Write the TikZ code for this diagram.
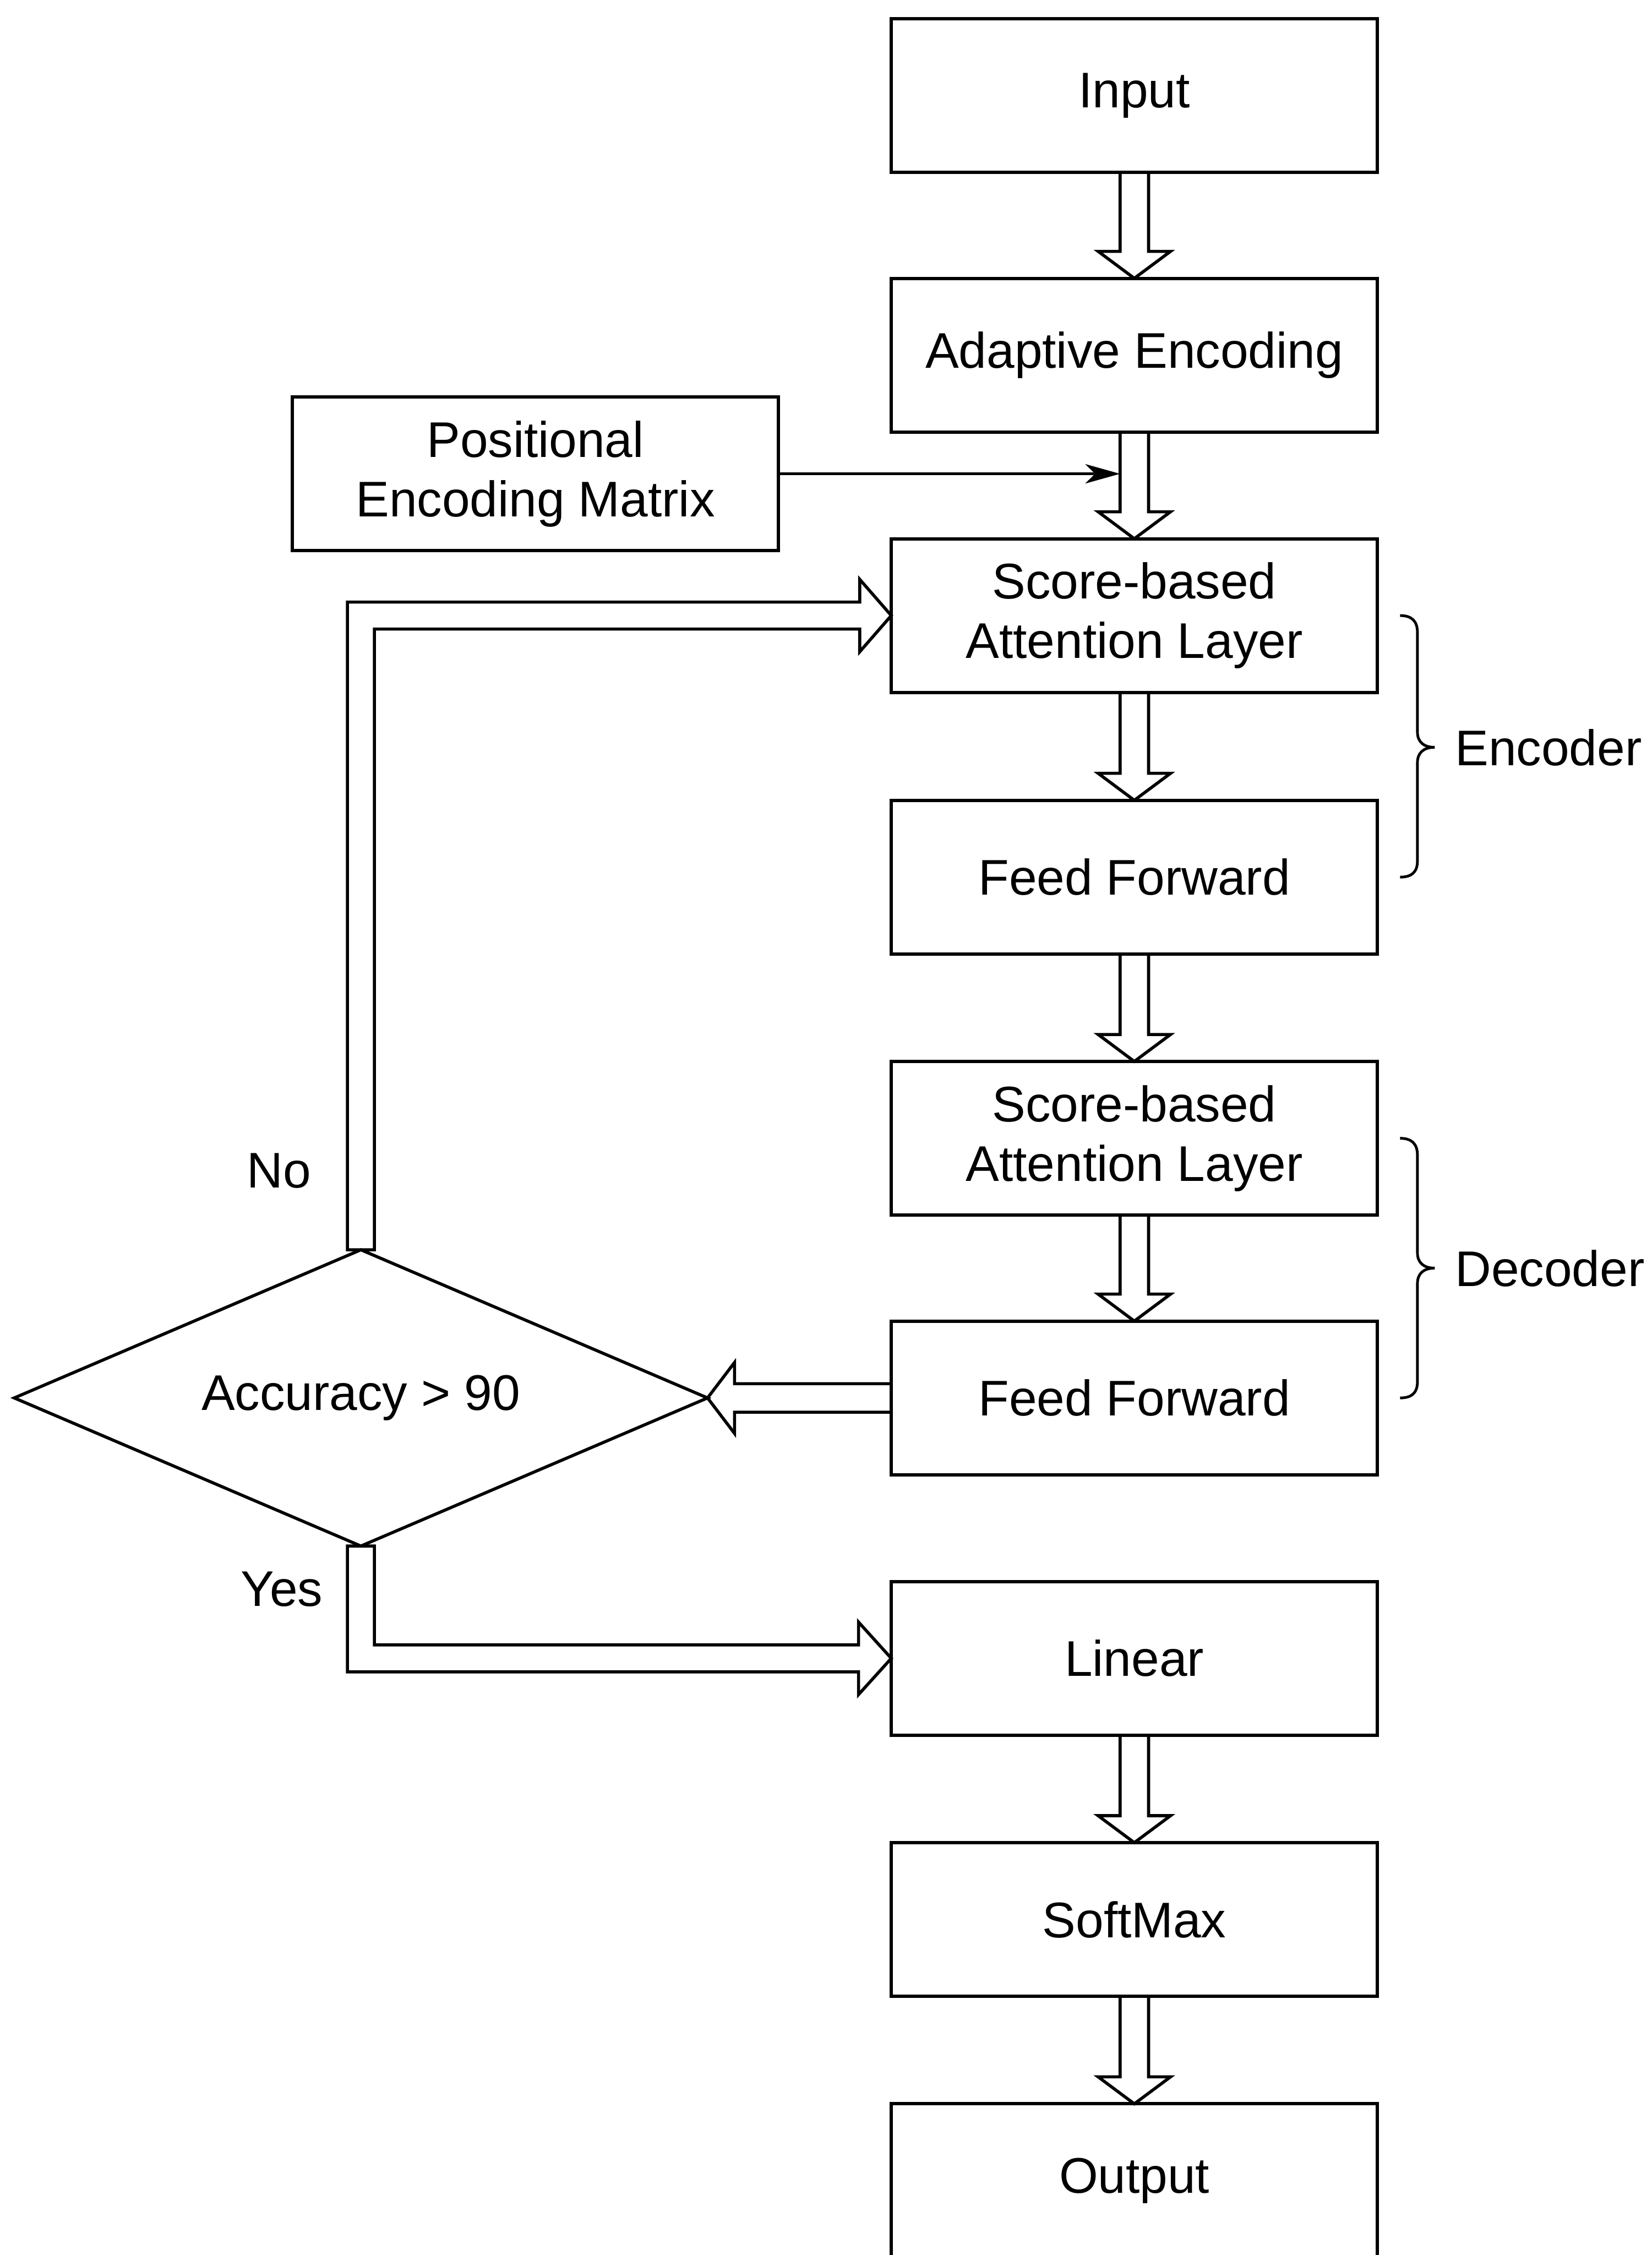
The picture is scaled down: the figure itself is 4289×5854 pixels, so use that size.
\documentclass[tikz,border=0pt]{standalone}
\usepackage{fontspec}
\setmainfont{Liberation Sans}
\usetikzlibrary{shapes.geometric,calc,arrows.meta}

% hollow block arrow pointing down from node #1 to node #2
\newcommand\blockdown[2]{%
  \draw[blockarrow] ($(#1.south)+(-37,0)$) -- ($(#2.north)+(-37,-70)$)
    -- ($(#2.north)+(-94,-70)$) -- (#2.north) -- ($(#2.north)+(94,-70)$)
    -- ($(#2.north)+(37,-70)$) -- ($(#1.south)+(37,0)$);}

\begin{document}
\begin{tikzpicture}[x=0.1mm,y=-0.1mm,
  every node/.style={font=\fontsize{37}{44}\selectfont},
  box/.style={draw,line width=0.85mm,minimum width=126.2mm,minimum height=39.9mm,
    inner sep=0pt,outer sep=0pt,align=center},
  decision/.style={draw,shape=diamond,aspect=2.34,line width=0.8mm,minimum width=180mm,
    minimum height=76.9mm,inner sep=0pt,outer sep=0pt},
  blockarrow/.style={draw,line width=0.8mm,line join=miter},
  thinarrow/.style={line width=0.8mm,-{Stealth[length=9mm,width=5mm,inset=2.5mm]}},
  bracepath/.style={line width=0.7mm},
  plainlabel/.style={inner sep=0pt,outer sep=0pt}]

\useasboundingbox (0,0) rectangle (4289,5854);
\clip (0,0) rectangle (4289,5854);

% main column
\node[box] (inp)   at (2945,248)  {Input};
\node[box] (adapt) at (2945,922)  {Adaptive Encoding};
\node[box] (sal1)  at (2945,1598) {Score-based\\Attention Layer};
\node[box] (ff1)   at (2945,2277) {Feed Forward};
\node[box] (sal2)  at (2945,2955) {Score-based\\Attention Layer};
\node[box] (ff2)   at (2945,3629) {Feed Forward};
\node[box] (lin)   at (2945,4305) {Linear};
\node[box] (soft)  at (2945,4983) {SoftMax};
\node[box] (outp)  at (2945,5661) {Output};

% side inputs
\node[box] (pos) at (1390,1230) {Positional\\Encoding Matrix};
\node[decision] (acc) at (937,3629) {Accuracy > 90};

% vertical block arrows
\blockdown{inp}{adapt}
\blockdown{adapt}{sal1}
\blockdown{sal1}{ff1}
\blockdown{ff1}{sal2}
\blockdown{sal2}{ff2}
\blockdown{lin}{soft}
\blockdown{soft}{outp}

% positional encoding joins the shaft into the attention layer
\coordinate (shaftL) at ($(adapt.south)+(-37,0)$);
\draw[thinarrow] (pos.east) -- (pos.east -| shaftL);

% feed forward output into the decision
\draw[blockarrow] ($(ff2.west)+(0,-37)$) -- ($(acc.east)+(70,-37)$)
  -- ($(acc.east)+(70,-92)$) -- (acc.east) -- ($(acc.east)+(70,92)$)
  -- ($(acc.east)+(70,37)$) -- ($(ff2.west)+(0,37)$);

% "No" branch back to the encoder attention layer
\coordinate (nocorner) at (acc.north |- sal1.west);
\draw[blockarrow] ($(acc.north)+(-35,0)$) -- ($(nocorner)+(-35,-35)$)
  -- ($(sal1.west)+(-82,-35)$) -- ($(sal1.west)+(-82,-94)$) -- (sal1.west)
  -- ($(sal1.west)+(-82,94)$) -- ($(sal1.west)+(-82,35)$)
  -- ($(nocorner)+(35,35)$) -- ($(acc.north)+(35,0)$) -- cycle;

% "Yes" branch on to the linear layer
\coordinate (yescorner) at (acc.south |- lin.west);
\draw[blockarrow] ($(acc.south)+(-35,0)$) -- ($(yescorner)+(-35,35)$)
  -- ($(lin.west)+(-85,35)$) -- ($(lin.west)+(-85,94)$) -- (lin.west)
  -- ($(lin.west)+(-85,-94)$) -- ($(lin.west)+(-85,-35)$)
  -- ($(yescorner)+(35,-35)$) -- ($(acc.south)+(35,0)$) -- cycle;

\node[plainlabel] (nolbl)  at (724,3040)  {No};
\node[plainlabel] (yeslbl) at (732,4125) {Yes};

% braces grouping encoder and decoder
\draw[bracepath] (3635,1598) .. controls (3665,1598) and (3680,1612) .. (3680,1642)
  -- (3680,1900) .. controls (3680,1926) and (3696,1940) .. (3725,1940)
  .. controls (3696,1940) and (3680,1954) .. (3680,1980)
  -- (3680,2235) .. controls (3680,2264) and (3665,2277) .. (3635,2277);
\draw[bracepath] (3635,2955) .. controls (3665,2955) and (3680,2969) .. (3680,2999)
  -- (3680,3252) .. controls (3680,3278) and (3696,3292) .. (3725,3292)
  .. controls (3696,3292) and (3680,3306) .. (3680,3332)
  -- (3680,3587) .. controls (3680,3616) and (3665,3629) .. (3635,3629);

\node[plainlabel,anchor=west] (enclbl) at (3778,1941) {Encoder};
\node[plainlabel,anchor=west] (declbl) at (3778,3293) {Decoder};

\end{tikzpicture}
\end{document}
